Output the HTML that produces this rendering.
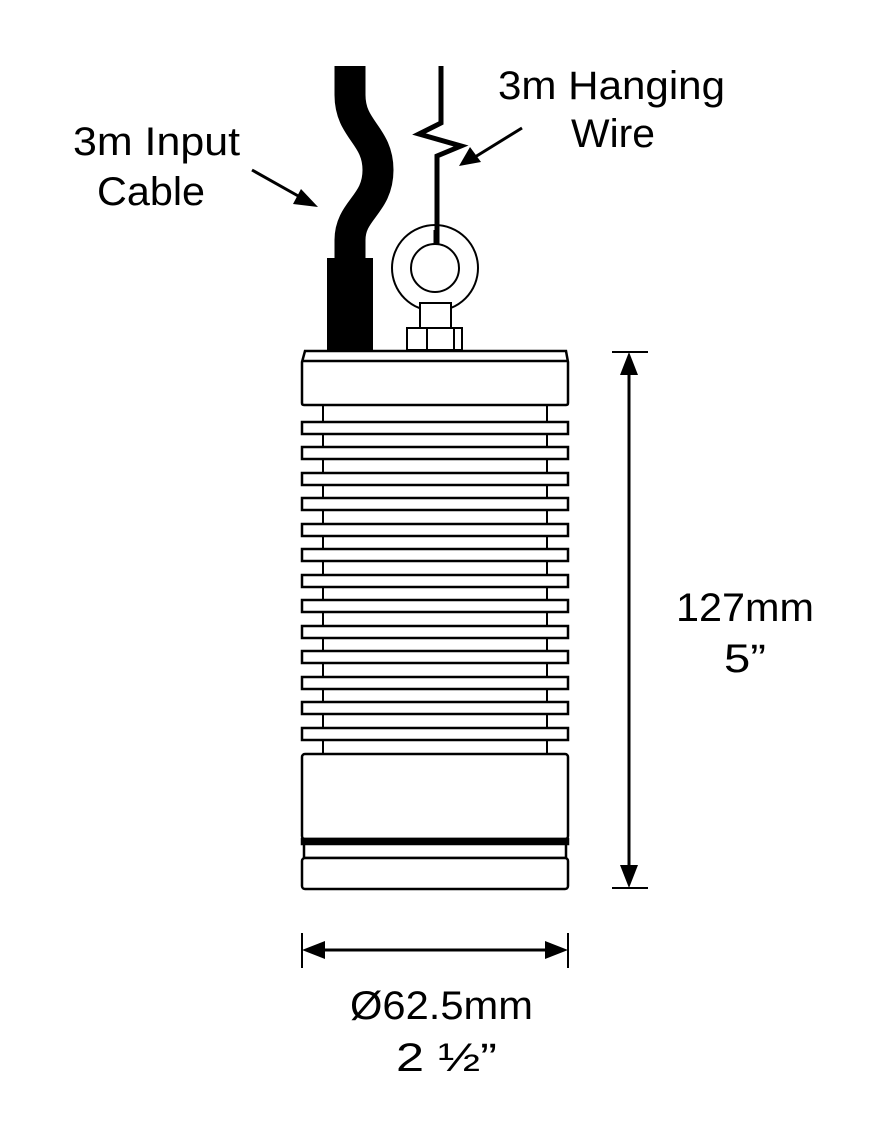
<!DOCTYPE html>
<html><head><style>
body{margin:0;background:#fff}
svg{display:block}
text{font-family:"Liberation Sans",sans-serif;font-size:40px;fill:#000}
</style></head><body>
<svg width="896" height="1128" viewBox="0 0 896 1128" xmlns="http://www.w3.org/2000/svg">
<rect width="896" height="1128" fill="#fff"/>
<!-- cable -->
<path d="M350,66 L350,95 C350,130 378,135 378,170 C378,205 350,210 350,240 L350,262" fill="none" stroke="#000" stroke-width="31"/>
<rect x="327" y="258" width="46" height="94" fill="#000"/>
<!-- hanging wire -->
<path d="M441,66 L441,123 L419,134 L461,146 L437,156 L437,245" fill="none" stroke="#000" stroke-width="5" stroke-linejoin="miter"/>
<!-- eye -->
<circle cx="435" cy="268" r="43" fill="none" stroke="#000" stroke-width="2"/>
<circle cx="435" cy="268" r="24" fill="none" stroke="#000" stroke-width="2"/>
<line x1="436" y1="230" x2="436" y2="245" stroke="#000" stroke-width="5"/>
<rect x="420" y="303" width="31" height="25" fill="#fff" stroke="#000" stroke-width="2"/>
<rect x="407" y="328" width="55" height="22" fill="#fff" stroke="#000" stroke-width="2"/>
<line x1="427" y1="328" x2="427" y2="350" stroke="#000" stroke-width="2"/>
<line x1="454" y1="328" x2="454" y2="350" stroke="#000" stroke-width="2"/>
<!-- body -->
<g fill="#fff" stroke="#000" stroke-width="2.5">
<rect x="323" y="405" width="224" height="350" stroke-width="2"/>
<path d="M305,351 L566,351 L568,362 L568,403 Q568,405 566,405 L304,405 Q302,405 302,403 L302,362 Z"/>
<line x1="302" y1="361" x2="568" y2="361"/>
<rect x="302" y="422" width="266" height="12"/>
<rect x="302" y="447" width="266" height="12"/>
<rect x="302" y="473" width="266" height="12"/>
<rect x="302" y="498" width="266" height="12"/>
<rect x="302" y="524" width="266" height="12"/>
<rect x="302" y="549" width="266" height="12"/>
<rect x="302" y="575" width="266" height="12"/>
<rect x="302" y="600" width="266" height="12"/>
<rect x="302" y="626" width="266" height="12"/>
<rect x="302" y="651" width="266" height="12"/>
<rect x="302" y="677" width="266" height="12"/>
<rect x="302" y="702" width="266" height="12"/>
<rect x="302" y="728" width="266" height="12"/>
<rect x="302" y="754" width="266" height="85" rx="3"/>
<rect x="302" y="839" width="266" height="5" fill="#000"/>
<rect x="304" y="844" width="262" height="14"/>
<rect x="302" y="858" width="266" height="31" rx="3"/>
</g>
<!-- dimensions -->
<g stroke="#000" stroke-width="2">
<line x1="612" y1="352" x2="648" y2="352"/>
<line x1="612" y1="888" x2="648" y2="888"/>
<line x1="629" y1="370" x2="629" y2="870" stroke-width="3"/>
<line x1="302" y1="933" x2="302" y2="968"/>
<line x1="568" y1="933" x2="568" y2="968"/>
<line x1="320" y1="950" x2="550" y2="950" stroke-width="3"/>
<line x1="252" y1="170" x2="300" y2="197" stroke-width="3"/>
<line x1="522" y1="128" x2="475" y2="157" stroke-width="3"/>
</g>
<g fill="#000">
<polygon points="629,352 620,375 638,375"/>
<polygon points="629,888 620,865 638,865"/>
<polygon points="302,950 325,941 325,959"/>
<polygon points="568,950 545,941 545,959"/>
<polygon points="318,207 293,204 301,189"/>
<polygon points="459,166 470,147 481,162"/>
</g>
<text x="73" y="155" textLength="167" lengthAdjust="spacingAndGlyphs">3m Input</text>
<text x="97" y="205" textLength="108" lengthAdjust="spacingAndGlyphs">Cable</text>
<text x="498" y="99" textLength="227" lengthAdjust="spacingAndGlyphs">3m Hanging</text>
<text x="571" y="147" textLength="84" lengthAdjust="spacingAndGlyphs">Wire</text>
<text x="676" y="621" textLength="138" lengthAdjust="spacingAndGlyphs">127mm</text>
<text x="724" y="672" textLength="42" lengthAdjust="spacingAndGlyphs">5”</text>
<text x="350" y="1019" textLength="183" lengthAdjust="spacingAndGlyphs">Ø62.5mm</text>
<text x="396" y="1071" textLength="101" lengthAdjust="spacingAndGlyphs">2 ½”</text>
</svg>
</body></html>
